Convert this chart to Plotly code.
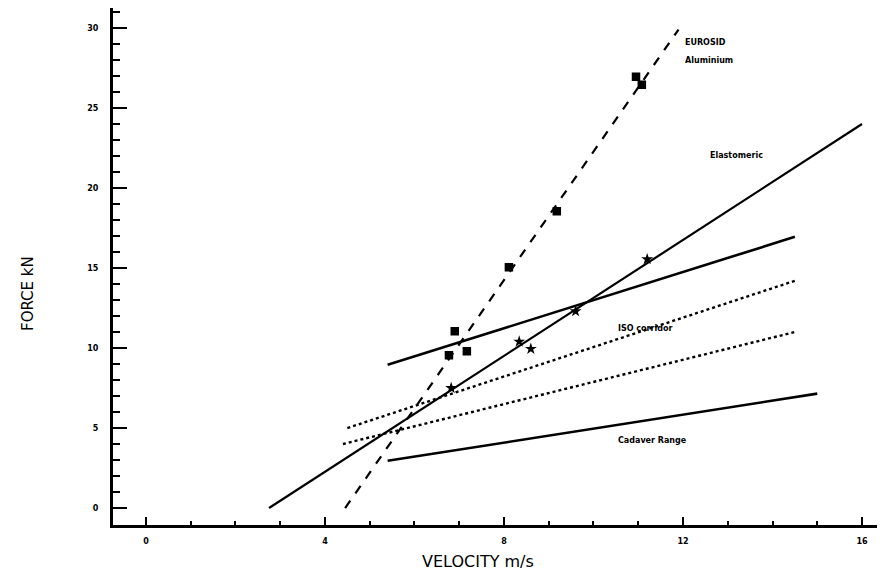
import plotly.graph_objects as go

# Regression / corridor lines (endpoints)
eurosid_line_x = [4.45, 11.9]
eurosid_line_y = [0.0, 29.9]
elasto_line_x = [2.75, 16.0]
elasto_line_y = [0.0, 24.0]
upper_solid_x = [5.4, 14.5]
upper_solid_y = [8.95, 16.95]
iso_upper_x = [4.5, 14.5]
iso_upper_y = [5.0, 14.2]
iso_lower_x = [4.4, 14.5]
iso_lower_y = [4.0, 11.0]
cadaver_x = [5.4, 15.0]
cadaver_y = [2.95, 7.15]

# Test points
eurosid_pts_x = [6.9, 6.77, 7.17, 8.11, 9.18, 10.95, 11.08]
eurosid_pts_y = [11.05, 9.55, 9.8, 15.05, 18.55, 26.95, 26.45]
elasto_pts_x = [6.82, 8.34, 8.6, 9.6, 11.2]
elasto_pts_y = [7.5, 10.4, 9.95, 12.3, 15.55]

# Text labels
label_text = ["EUROSID", "Aluminium", "Elastomeric", "ISO corridor", "Cadaver Range"]
label_x = [12.0, 12.0, 12.55, 10.5, 10.5]
label_y = [29.1, 28.0, 22.05, 11.25, 4.25]

# page has an 8px body margin
OFF = 8
W, H = 885 - OFF, 574 - OFF
ml, mr, mt, mb = 113 - OFF, 0, 0, 566 - 517
pw, ph = W - ml - mr, H - mt - mb

fig = go.Figure()

def line(x, y, dash="solid", width=2.6):
    fig.add_trace(go.Scatter(x=x, y=y, mode="lines",
                             line=dict(color="black", width=width, dash=dash),
                             showlegend=False, hoverinfo="skip"))

line(eurosid_line_x, eurosid_line_y, dash="dash", width=2.2)
line(elasto_line_x, elasto_line_y, width=2.2)
line(upper_solid_x, upper_solid_y, width=2.6)
line(iso_upper_x, iso_upper_y, dash="dot", width=2.4)
line(iso_lower_x, iso_lower_y, dash="dot", width=2.4)
line(cadaver_x, cadaver_y, width=2.6)

fig.add_trace(go.Scatter(x=eurosid_pts_x, y=eurosid_pts_y, mode="markers",
                         marker=dict(symbol="square-x", size=7, color="black",
                                     line=dict(color="black", width=1.5)),
                         showlegend=False))
fig.add_trace(go.Scatter(x=elasto_pts_x, y=elasto_pts_y, mode="markers",
                         marker=dict(symbol="star", size=9, color="black",
                                     line=dict(color="black", width=0)),
                         showlegend=False))

for t, x, y in zip(label_text, label_x, label_y):
    fig.add_annotation(x=x, y=y, xref="x", yref="y", text=t, showarrow=False,
                       xanchor="left", yanchor="middle",
                       font=dict(family="DejaVu Sans", size=8, color="black", weight="bold"))

def px_to_paper(px, py):
    fx, fy = px - OFF, py - OFF
    return (fx - ml) / pw, (H - fy - mb) / ph

vx, vy = px_to_paper(478, 561)
fig.add_annotation(x=vx, y=vy, xref="paper", yref="paper", text="VELOCITY m/s",
                   showarrow=False, xanchor="center", yanchor="middle",
                   font=dict(family="DejaVu Sans", size=16, color="black"))
fx, fy = px_to_paper(28, 294)
fig.add_annotation(x=fx, y=fy, xref="paper", yref="paper", text="FORCE kN",
                   showarrow=False, xanchor="center", yanchor="middle", textangle=-90,
                   font=dict(family="DejaVu Sans", size=15, color="black"))

fig.update_layout(
    width=W, height=H,
    margin=dict(l=ml, r=mr, t=mt, b=mb),
    plot_bgcolor="white", paper_bgcolor="white",
    xaxis=dict(range=[-0.737, 16.514], showgrid=False, zeroline=False,
               showline=True, linecolor="black", linewidth=3,
               tickmode="linear", tick0=0, dtick=4, ticks="inside", ticklen=8,
               tickwidth=2, tickcolor="black",
               minor=dict(dtick=1, tick0=0, ticks="inside", ticklen=4, tickwidth=2, tickcolor="black"),
               ticklabelstandoff=6,
               tickfont=dict(family="DejaVu Sans", size=8, color="black", weight="bold")),
    yaxis=dict(range=[-1.06, 31.25], showgrid=False, zeroline=False,
               showline=True, linecolor="black", linewidth=3,
               tickmode="linear", tick0=0, dtick=5, ticks="inside", ticklen=14,
               tickwidth=2, tickcolor="black",
               minor=dict(dtick=1, tick0=0, ticks="inside", ticklen=7, tickwidth=2, tickcolor="black"),
               ticklabelstandoff=10,
               tickfont=dict(family="DejaVu Sans", size=8, color="black", weight="bold")),
)

fig.write_html("out.html")
